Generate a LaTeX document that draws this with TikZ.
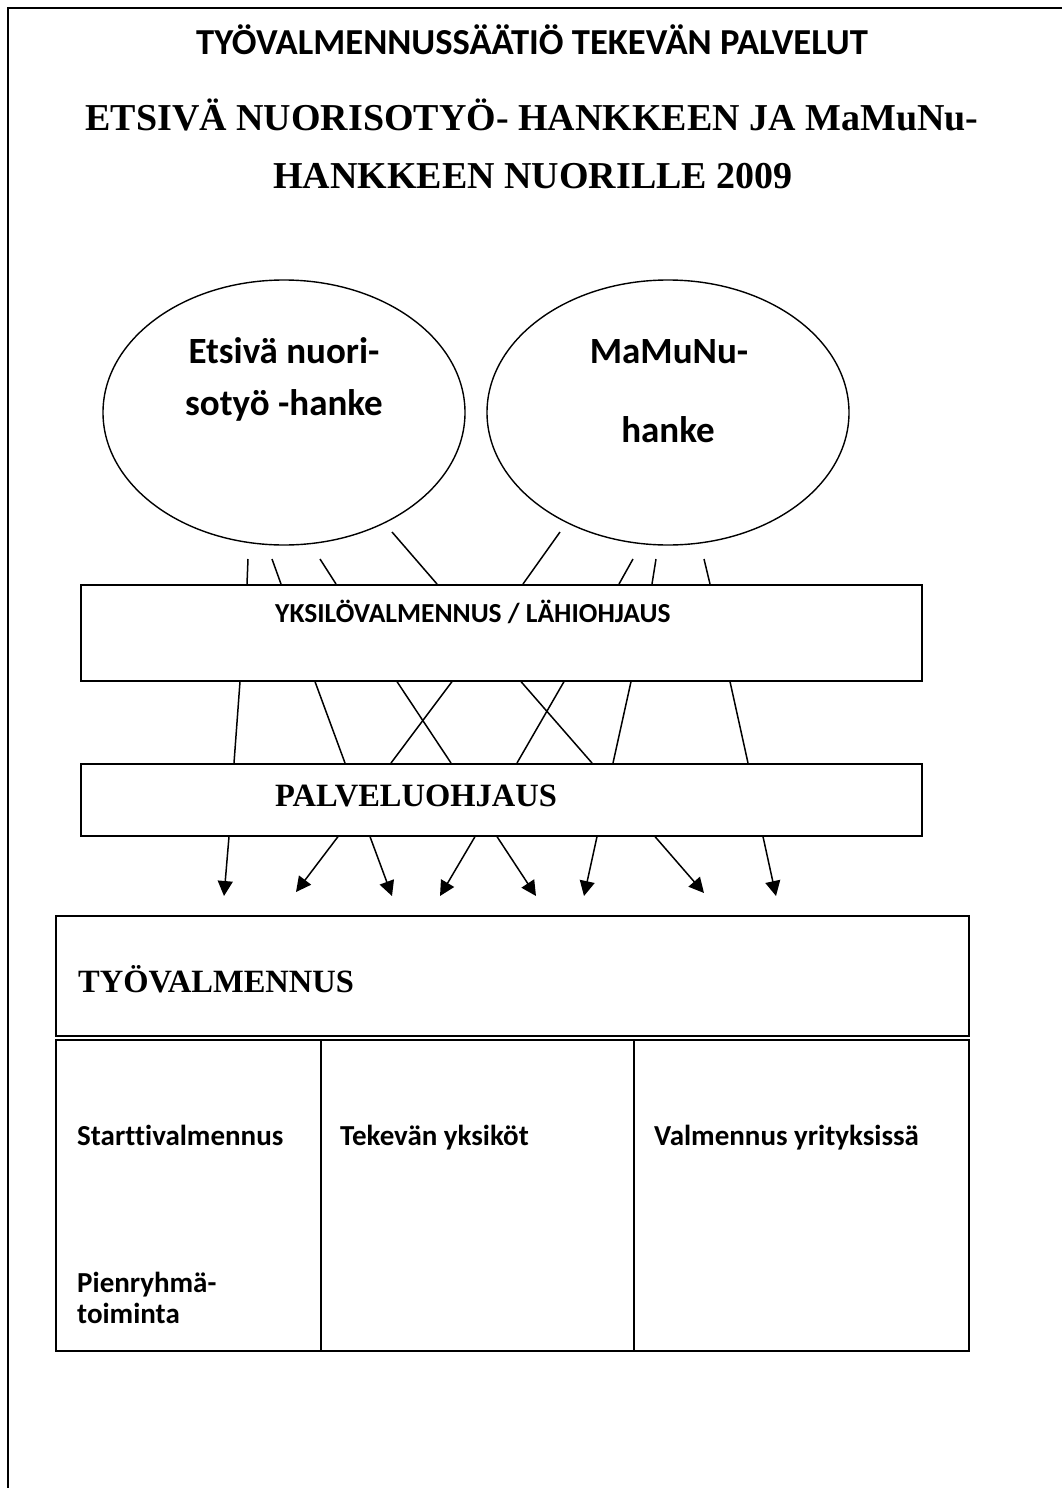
\documentclass[tikz,border=0pt]{standalone}
\usepackage{fontspec}
\setmainfont{Liberation Serif}
\newfontfamily\carl{Carlito}[Ligatures=NoCommon]
\usetikzlibrary{shapes.geometric,arrows.meta,calc}
\begin{document}
\begin{tikzpicture}[x=1pt,y=-1pt,
  box/.style={draw, line width=1.6pt, rectangle, inner sep=0pt, anchor=north west},
  oval/.style={draw, line width=1.4pt, ellipse, inner sep=0pt, minimum width=362pt, minimum height=265pt},
  conn/.style={line width=1.5pt},
  arr/.style={line width=1.5pt, -{Triangle[length=15pt,width=15pt]}},
  ttlsans/.style={anchor=base, inner sep=0pt, font=\carl\bfseries\fontsize{36.6}{40}\selectfont},
  ttlserif/.style={anchor=base, inner sep=0pt, font=\bfseries\fontsize{38}{42}\selectfont},
  ovaltxt/.style={anchor=base, inner sep=0pt, font=\carl\bfseries\fontsize{37}{40}\selectfont},
  boxsans/.style={anchor=base west, inner sep=0pt, font=\carl\bfseries\fontsize{27.5}{30}\selectfont},
  boxserif/.style={anchor=base west, inner sep=0pt, font=\bfseries\fontsize{32.5}{36}\selectfont},
  celltxt/.style={anchor=base west, inner sep=0pt, font=\carl\bfseries\fontsize{29}{32}\selectfont}]
\useasboundingbox (0,0) rectangle (1062,1488);
\fill[white] (0,0) rectangle (1062,1488);
% outer frame
\draw[line width=2.5pt] (8,1490) -- (8,8) -- (1064,8);
% title
\node[ttlsans]  (t1) at (532,55)  {TYÖVALMENNUSSÄÄTIÖ TEKEVÄN PALVELUT};
\node[ttlserif] (t2) at (532,130) {ETSIVÄ NUORISOTYÖ- HANKKEEN JA MaMuNu-};
\node[ttlserif] (t3) at (533,188) {HANKKEEN NUORILLE 2009};
% ellipses
\node[oval] (e1) at (284,412.5) {};
\node[oval] (e2) at (668,412.5) {};
\node[ovaltxt] (e1a) at (284,363) {Etsivä nuori-};
\node[ovaltxt] (e1b) at (284,415) {sotyö -hanke};
\node[ovaltxt] (e2a) at (669,363) {MaMuNu-};
\node[ovaltxt] (e2b) at (668,442) {hanke};
% boxes
\node[box, minimum width=841pt, minimum height=96pt] (yk) at (80,584) {};
\node[boxsans] (ykt) at (275,622.5) {YKSILÖVALMENNUS / LÄHIOHJAUS};
\node[box, minimum width=841pt, minimum height=72pt] (pal) at (80,763) {};
\node[boxserif] (palt) at (275,806) {PALVELUOHJAUS};
\node[box, minimum width=913pt, minimum height=120pt] (tv) at (55,915) {};
\node[boxserif] (tvt) at (78,992.5) {TYÖVALMENNUS};
\node[box, minimum width=265pt, minimum height=311pt] (c1) at (55,1039) {};
\node[box, minimum width=313pt, minimum height=311pt] (c2) at (320,1039) {};
\node[box, minimum width=335pt, minimum height=311pt] (c3) at (633,1039) {};
\node[celltxt] (c1a) at (77,1145) {Starttivalmennus};
\node[celltxt] (c1b) at (77,1292) {Pienryhmä-};
\node[celltxt] (c1c) at (77,1323) {toiminta};
\node[celltxt] (c2a) at (340,1145) {Tekevän yksiköt};
\node[celltxt] (c3a) at (654,1145) {Valmennus yrityksissä};
% lines from ellipses to first box
\foreach \i/\xa/\ya/\xb in {1/248/559/247, 2/272/559/281, 3/320/559/336, 4/392/532/437,
                            5/560/532/523, 6/633/559/619, 7/656/559/652, 8/704/559/710}{
  \coordinate (s\i) at (\xa,\ya);
  \draw[conn] (s\i) -- ($(yk.north west)+(\xb-80,0)$);
}
% lines between the two boxes
\foreach \xa/\xb in {240/234, 315/345, 397/451, 452/391, 521/592, 564/517, 631/613, 730/748}{
  \draw[conn] ($(yk.south west)+(\xa-80,0)$) -- ($(pal.north west)+(\xb-80,0)$);
}
% arrows to TYÖVALMENNUS
\foreach \i/\xa/\xb/\yb in {1/229/224/896, 2/338/296/892, 3/370/392/896, 4/475/440/896,
                            5/497/536/896, 6/597/584/896, 7/655/704/893, 8/763/776/896}{
  \coordinate (a\i) at (\xb,\yb);
  \draw[arr] ($(pal.south west)+(\xa-80,0)$) -- (a\i);
}
\end{tikzpicture}
\end{document}
